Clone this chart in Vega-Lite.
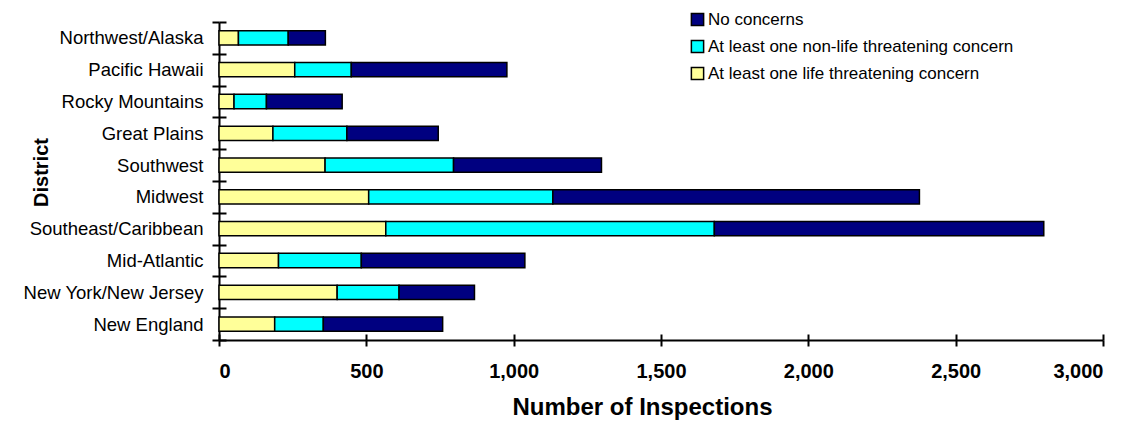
{
  "$schema": "https://vega.github.io/schema/vega-lite/v6.json",
  "autosize": {"type": "none"},
  "width": 884,
  "height": 318,
  "padding": {"left": 219, "top": 22, "right": 34, "bottom": 92},
  "background": "white",
  "data": {"values": [
    {"district": "Northwest/Alaska", "concern": "At least one life threatening concern", "n": 66},
    {"district": "Northwest/Alaska", "concern": "At least one non-life threatening concern", "n": 169},
    {"district": "Northwest/Alaska", "concern": "No concerns", "n": 126},
    {"district": "Pacific Hawaii", "concern": "At least one life threatening concern", "n": 257},
    {"district": "Pacific Hawaii", "concern": "At least one non-life threatening concern", "n": 192},
    {"district": "Pacific Hawaii", "concern": "No concerns", "n": 528},
    {"district": "Rocky Mountains", "concern": "At least one life threatening concern", "n": 51},
    {"district": "Rocky Mountains", "concern": "At least one non-life threatening concern", "n": 110},
    {"district": "Rocky Mountains", "concern": "No concerns", "n": 257},
    {"district": "Great Plains", "concern": "At least one life threatening concern", "n": 183},
    {"district": "Great Plains", "concern": "At least one non-life threatening concern", "n": 251},
    {"district": "Great Plains", "concern": "No concerns", "n": 310},
    {"district": "Southwest", "concern": "At least one life threatening concern", "n": 360},
    {"district": "Southwest", "concern": "At least one non-life threatening concern", "n": 436},
    {"district": "Southwest", "concern": "No concerns", "n": 502},
    {"district": "Midwest", "concern": "At least one life threatening concern", "n": 508},
    {"district": "Midwest", "concern": "At least one non-life threatening concern", "n": 625},
    {"district": "Midwest", "concern": "No concerns", "n": 1244},
    {"district": "Southeast/Caribbean", "concern": "At least one life threatening concern", "n": 566},
    {"district": "Southeast/Caribbean", "concern": "At least one non-life threatening concern", "n": 1115},
    {"district": "Southeast/Caribbean", "concern": "No concerns", "n": 1118},
    {"district": "Mid-Atlantic", "concern": "At least one life threatening concern", "n": 202},
    {"district": "Mid-Atlantic", "concern": "At least one non-life threatening concern", "n": 281},
    {"district": "Mid-Atlantic", "concern": "No concerns", "n": 555},
    {"district": "New York/New Jersey", "concern": "At least one life threatening concern", "n": 401},
    {"district": "New York/New Jersey", "concern": "At least one non-life threatening concern", "n": 210},
    {"district": "New York/New Jersey", "concern": "No concerns", "n": 256},
    {"district": "New England", "concern": "At least one life threatening concern", "n": 189},
    {"district": "New England", "concern": "At least one non-life threatening concern", "n": 165},
    {"district": "New England", "concern": "No concerns", "n": 405}
  ]},
  "layer": [
    {
      "mark": {"type": "bar", "stroke": "black", "strokeWidth": 1.5, "height": {"band": 0.45}},
      "encoding": {
        "y": {
          "field": "district", "type": "nominal",
          "sort": ["Northwest/Alaska", "Pacific Hawaii", "Rocky Mountains", "Great Plains", "Southwest", "Midwest", "Southeast/Caribbean", "Mid-Atlantic", "New York/New Jersey", "New England"],
          "scale": {"paddingInner": 0, "paddingOuter": 0},
          "axis": {
            "orient": "left",
            "title": "District", "titleFont": "Liberation Sans", "titleFontSize": 20, "titleFontWeight": "bold", "titleColor": "black",
            "titleX": -168, "titleY": 150,
            "labelFont": "Liberation Sans", "labelFontSize": 18.5, "labelColor": "black", "labelPadding": 9, "labelLimit": 0,
            "tickBand": "extent", "tickColor": "black", "tickWidth": 2, "tickSize": 7,
            "domainColor": "black", "domainWidth": 2
          }
        },
        "x": {
          "field": "n", "type": "quantitative", "stack": "zero",
          "scale": {"domain": [0, 3000], "nice": false},
          "axis": {
            "orient": "bottom",
            "title": "Number of Inspections", "titleFont": "Liberation Sans", "titleFontSize": 24, "titleFontWeight": "bold", "titleColor": "black",
            "titleX": 423, "titleY": 67, "titleBaseline": "middle",
            "values": [0, 500, 1000, 1500, 2000, 2500, 3000], "format": ",.0f",
            "labelFont": "Liberation Sans", "labelFontSize": 20, "labelFontWeight": "bold", "labelColor": "black", "labelPadding": 15,
            "tickColor": "black", "tickWidth": 2, "tickSize": 6,
            "domainColor": "black", "domainWidth": 2, "grid": false
          }
        },
        "color": {
          "field": "concern", "type": "nominal",
          "scale": {
            "domain": ["No concerns", "At least one non-life threatening concern", "At least one life threatening concern"],
            "range": ["#000080", "#00FFFF", "#FFFF99"]
          },
          "legend": {
            "title": null, "orient": "none", "legendX": 470, "legendY": -11,
            "symbolType": "square", "symbolSize": 150, "symbolStrokeColor": "black", "symbolStrokeWidth": 1.5,
            "labelFont": "Liberation Sans", "labelFontSize": 17, "labelColor": "black", "labelLimit": 0,
            "rowPadding": 8, "labelOffset": 2
          }
        },
        "order": {"field": "concern", "sort": "ascending"}
      }
    },
    {
      "mark": {"type": "rule", "opacity": 0},
      "encoding": {
        "y": {
          "field": "district", "type": "nominal",
          "sort": ["Northwest/Alaska", "Pacific Hawaii", "Rocky Mountains", "Great Plains", "Southwest", "Midwest", "Southeast/Caribbean", "Mid-Atlantic", "New York/New Jersey", "New England"],
          "axis": {
            "orient": "left",
            "title": null, "labels": false, "domain": false,
            "tickBand": "extent", "tickColor": "black", "tickWidth": 2, "tickSize": -7
          }
        },
        "x": {
          "field": "n", "type": "quantitative",
          "axis": {
            "orient": "bottom",
            "title": null, "labels": false, "domain": false, "grid": false,
            "values": [0, 500, 1000, 1500, 2000, 2500, 3000],
            "tickColor": "black", "tickWidth": 2, "tickSize": -6
          }
        }
      }
    }
  ],
  "resolve": {"axis": {"x": "independent", "y": "independent"}},
  "config": {"view": {"stroke": null}}
}
